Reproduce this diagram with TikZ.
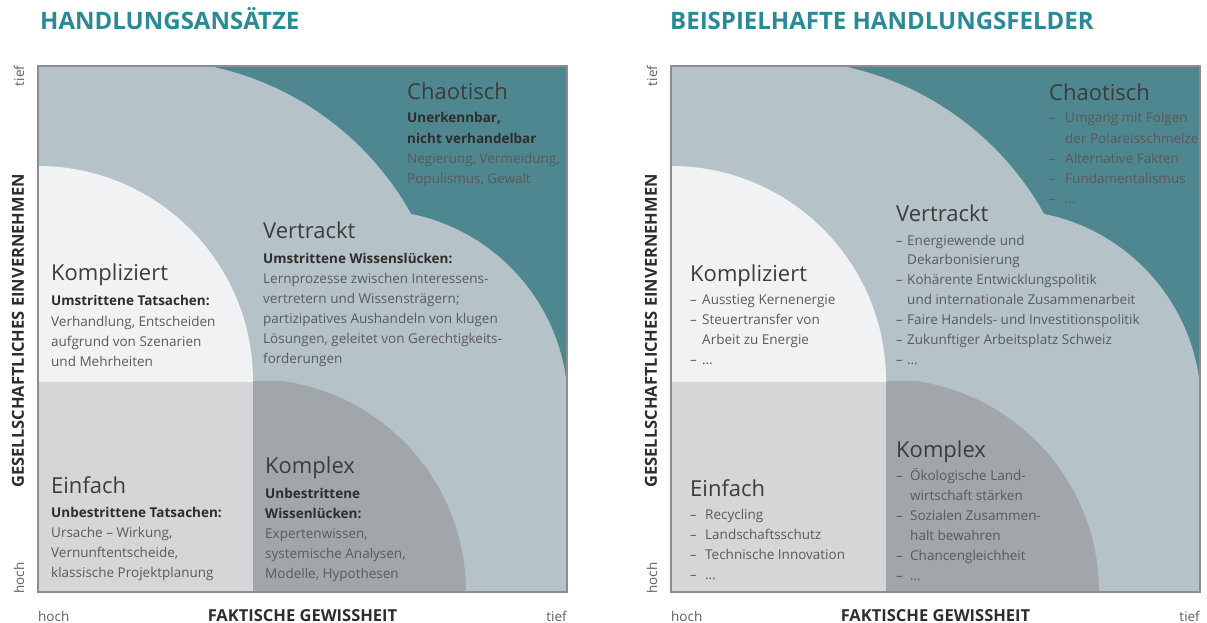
\documentclass[tikz,border=0pt]{standalone}
\usepackage{fontspec}
\setmainfont{Open Sans}
\definecolor{tealdark}{RGB}{78,135,143}
\definecolor{bluegrey}{RGB}{181,195,201}
\definecolor{komplcol}{RGB}{241,242,244}
\definecolor{einfcol}{RGB}{213,214,216}
\definecolor{komplexcol}{RGB}{160,166,170}
\definecolor{framecol}{RGB}{138,142,145}
\definecolor{titlecol}{RGB}{43,138,150}
\definecolor{bodycol}{RGB}{90,90,90}
\definecolor{boldcol}{RGB}{45,45,45}
\definecolor{headcol}{RGB}{60,60,60}
\definecolor{axiscol}{RGB}{95,95,95}
\newcommand\panelshapes{%
  \fill[tealdark] (38,66) rectangle (567,592);
  \begin{scope}
    \clip (38,66) rectangle (567,592);
    \fill[bluegrey] (149,360) circle[radius=300pt];
    \fill[bluegrey] (372,406) circle[radius=196pt];
    \fill[bluegrey] (38,66) rectangle (149,592);
    \fill[bluegrey] (38,406) rectangle (567,592);
  \end{scope}
  \fill[einfcol] (38,381) rectangle (253,592);
  \begin{scope}
    \clip (38,66) rectangle (253,381);
    \fill[komplcol] (38,381) circle[radius=215pt];
  \end{scope}
  \begin{scope}
    \clip (253,381) rectangle (567,592);
    \fill[komplexcol] (253,592) circle[radius=213pt];
  \end{scope}
  \draw[framecol,line width=2pt] (38,66) rectangle (567,592);
}
\begin{document}
\begin{tikzpicture}[x=1pt,y=-1pt,
  title/.style={anchor=base west,inner sep=0,font=\fontsize{24}{28}\selectfont\bfseries,text=titlecol},
  axis/.style={inner sep=0,font=\fontsize{13.5}{16}\selectfont,text=axiscol},
  axisbold/.style={inner sep=0,font=\fontsize{16.5}{20}\selectfont\bfseries,text=boldcol},
  head/.style={anchor=base west,inner sep=0,font=\fontsize{22}{26}\selectfont,text=headcol},
  txt/.style={anchor=base west,inner sep=0,font=\fontsize{13.5}{16}\selectfont,text=bodycol},
  bld/.style={anchor=base west,inner sep=0,font=\fontsize{13.5}{16}\selectfont\bfseries,text=boldcol}]
\useasboundingbox (0,0) rectangle (1207,623);
\fill[white] (0,0) rectangle (1207,623);

\panelshapes
\begin{scope}[xshift=633pt]
\panelshapes
\end{scope}

% ---------- left panel ----------
\node[title] (t1) at (40,30) {HANDLUNGSANSÄTZE};
\node[axis,rotate=90] (l-tief) at (19,76) {tief};
\node[axis,rotate=90] (l-hoch) at (19,578) {hoch};
\node[axisbold,rotate=90] (l-ge) at (18,331) {GESELLSCHAFTLICHES EINVERNEHMEN};
\node[axis,anchor=base west] (l-bhoch) at (38,621) {hoch};
\node[axisbold,anchor=base] (l-fg) at (302.5,621) {FAKTISCHE GEWISSHEIT};
\node[axis,anchor=base east] (l-btief) at (567,621) {tief};

\node[head] (lc-h) at (407,100) {Chaotisch};
\node[bld] (lc-1) at (407,123) {Unerkennbar,};
\node[bld] (lc-2) at (407,143) {nicht verhandelbar};
\node[txt] (lc-3) at (407,163) {Negierung, Vermeidung,};
\node[txt] (lc-4) at (407,183) {Populismus, Gewalt};

\node[head] (lv-h) at (263,238) {Vertrackt};
\node[bld] (lv-1) at (263,263) {Umstrittene Wissenslücken:};
\node[txt] (lv-2) at (263,283) {Lernprozesse zwischen Interessens-};
\node[txt] (lv-3) at (263,303) {vertretern und Wissensträgern;};
\node[txt] (lv-4) at (263,323) {partizipatives Aushandeln von klugen};
\node[txt] (lv-5) at (263,343) {Lösungen, geleitet von Gerechtigkeits-};
\node[txt] (lv-6) at (263,363) {forderungen};

\node[head] (lk-h) at (51,280) {Kompliziert};
\node[bld] (lk-1) at (51,305) {Umstrittene Tatsachen:};
\node[txt] (lk-2) at (51,326) {Verhandlung, Entscheiden};
\node[txt] (lk-3) at (51,346) {aufgrund von Szenarien};
\node[txt] (lk-4) at (51,366) {und Mehrheiten};

\node[head] (le-h) at (51,493) {Einfach};
\node[bld] (le-1) at (51,517) {Unbestrittene Tatsachen:};
\node[txt] (le-2) at (51,537) {Ursache – Wirkung,};
\node[txt] (le-3) at (51,557) {Vernunftentscheide,};
\node[txt] (le-4) at (51,577) {klassische Projektplanung};

\node[head] (lx-h) at (265,473) {Komplex};
\node[bld] (lx-1) at (265,498) {Unbestrittene};
\node[bld] (lx-2) at (265,518) {Wissenlücken:};
\node[txt] (lx-3) at (265,538) {Expertenwissen,};
\node[txt] (lx-4) at (265,558) {systemische Analysen,};
\node[txt] (lx-5) at (265,578) {Modelle, Hypothesen};

% ---------- right panel ----------
\node[title] (t2) at (670,30) {BEISPIELHAFTE HANDLUNGSFELDER};
\node[axis,rotate=90] (r-tief) at (652,76) {tief};
\node[axis,rotate=90] (r-hoch) at (652,578) {hoch};
\node[axisbold,rotate=90] (r-ge) at (651,331) {GESELLSCHAFTLICHES EINVERNEHMEN};
\node[axis,anchor=base west] (r-bhoch) at (671,621) {hoch};
\node[axisbold,anchor=base] (r-fg) at (935.5,621) {FAKTISCHE GEWISSHEIT};
\node[axis,anchor=base east] (r-btief) at (1200,621) {tief};

\node[head] (rc-h) at (1049,101) {Chaotisch};
\node[txt] (rc-d1) at (1049,123) {–};
\node[txt] (rc-1) at (1065,123) {Umgang mit Folgen};
\node[txt] (rc-2) at (1065,143) {der Polareisschmelze};
\node[txt] (rc-d3) at (1049,163) {–};
\node[txt] (rc-3) at (1065,163) {Alternative Fakten};
\node[txt] (rc-d4) at (1049,183) {–};
\node[txt] (rc-4) at (1065,183) {Fundamentalismus};
\node[txt] (rc-d5) at (1049,203) {–};
\node[txt] (rc-5) at (1065,203) {…};

\node[head] (rv-h) at (896,221) {Vertrackt};
\node[txt] (rv-d1) at (896,245) {–};
\node[txt] (rv-1) at (907,245) {Energiewende und};
\node[txt] (rv-2) at (907,264) {Dekarbonisierung};
\node[txt] (rv-d3) at (896,284) {–};
\node[txt] (rv-3) at (907,284) {Kohärente Entwicklungspolitik};
\node[txt] (rv-4) at (907,304) {und internationale Zusammenarbeit};
\node[txt] (rv-d5) at (896,324) {–};
\node[txt] (rv-5) at (907,324) {Faire Handels- und Investitionspolitik};
\node[txt] (rv-d6) at (896,344) {–};
\node[txt] (rv-6) at (907,344) {Zukunftiger Arbeitsplatz Schweiz};
\node[txt] (rv-d7) at (896,364) {–};
\node[txt] (rv-7) at (907,364) {…};

\node[head] (rk-h) at (690,281) {Kompliziert};
\node[txt] (rk-d1) at (690,304) {–};
\node[txt] (rk-1) at (702,304) {Ausstieg Kernenergie};
\node[txt] (rk-d2) at (690,324) {–};
\node[txt] (rk-2) at (702,324) {Steuertransfer von};
\node[txt] (rk-3) at (702,344) {Arbeit zu Energie};
\node[txt] (rk-d4) at (690,364) {–};
\node[txt] (rk-4) at (702,364) {…};

\node[head] (re-h) at (690,496) {Einfach};
\node[txt] (re-d1) at (690,519) {–};
\node[txt] (re-1) at (705,519) {Recycling};
\node[txt] (re-d2) at (690,539) {–};
\node[txt] (re-2) at (705,539) {Landschaftsschutz};
\node[txt] (re-d3) at (690,559) {–};
\node[txt] (re-3) at (705,559) {Technische Innovation};
\node[txt] (re-d4) at (690,579) {–};
\node[txt] (re-4) at (705,579) {…};

\node[head] (rx-h) at (896,457) {Komplex};
\node[txt] (rx-d1) at (896,480) {–};
\node[txt] (rx-1) at (910,480) {Ökologische Land-};
\node[txt] (rx-2) at (910,500) {wirtschaft stärken};
\node[txt] (rx-d3) at (896,520) {–};
\node[txt] (rx-3) at (910,520) {Sozialen Zusammen-};
\node[txt] (rx-4) at (910,540) {halt bewahren};
\node[txt] (rx-d5) at (896,560) {–};
\node[txt] (rx-5) at (910,560) {Chancengleichheit};
\node[txt] (rx-d6) at (896,580) {–};
\node[txt] (rx-6) at (910,580) {…};
\end{tikzpicture}
\end{document}
